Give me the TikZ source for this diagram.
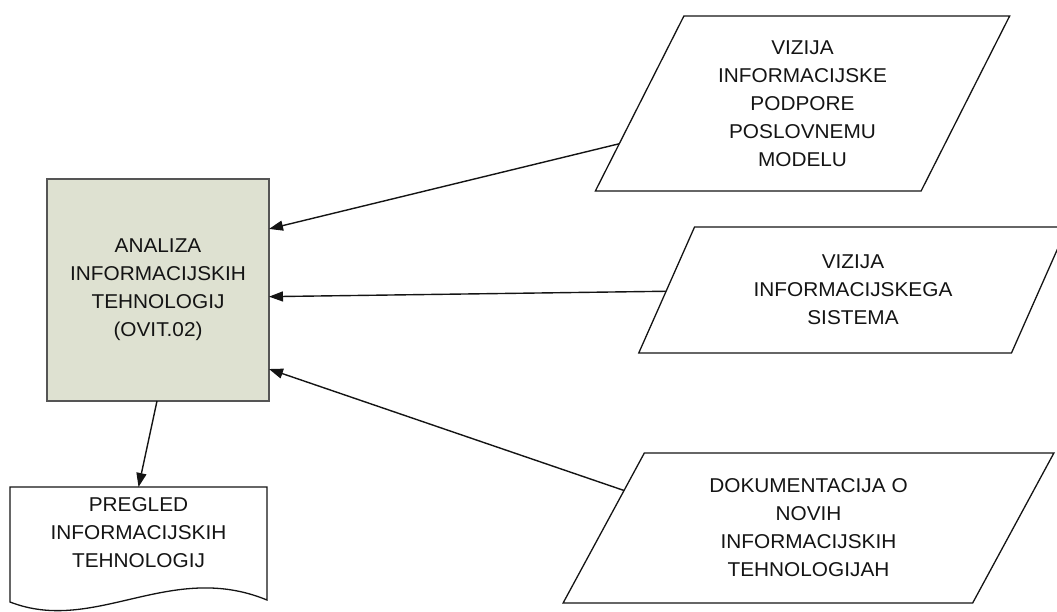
\documentclass[tikz,border=0pt]{standalone}
\usepackage{fontspec}
\setmainfont{Liberation Sans}[FakeStretch=1.04]
\usetikzlibrary{shapes.geometric,arrows.meta,calc}

\definecolor{procfill}{RGB}{222,225,209}
\definecolor{procedge}{RGB}{85,85,85}
\definecolor{inkline}{RGB}{20,20,20}

\tikzset{
  txt/.style={font=\fontsize{20pt}{28pt}\selectfont, text=inkline, align=center},
  process/.style={txt, draw=procedge, line width=2pt, fill=procfill,
    minimum width=222pt, minimum height=222pt, inner sep=0pt, outer sep=0pt},
  datain/.style={txt, draw=inkline, line width=1.3pt, trapezium,
    trapezium stretches=true, trapezium left angle=63.43,
    trapezium right angle=116.57, inner sep=0pt, outer sep=0pt},
  doctext/.style={txt, minimum width=257pt, minimum height=92pt,
    inner sep=0pt, outer sep=0pt},
  docedge/.style={draw=inkline, line width=1.3pt, line join=miter},
  flow/.style={draw=inkline, line width=1.4pt,
    -{Triangle[length=14pt,width=10pt]}},
}

\begin{document}
\begin{tikzpicture}[x=1pt,y=-1pt]
  \useasboundingbox (0,0) rectangle (1057,612);

  % central process
  \node[process] (box) at (158,290)
    {ANALIZA\\INFORMACIJSKIH\\TEHNOLOGIJ\\(OVIT.02)};

  % inputs
  \node[datain, minimum width=415pt, minimum height=175pt] (p1) at (802.5,103.5)
    {VIZIJA\\INFORMACIJSKE\\PODPORE\\POSLOVNEMU\\MODELU};
  \node[datain, minimum width=430pt, minimum height=126pt] (p2) at (853,290)
    {VIZIJA\\INFORMACIJSKEGA\\SISTEMA};
  \node[datain, minimum width=493pt, minimum height=150pt] (p3) at (808.5,528)
    {DOKUMENTACIJA O\\NOVIH\\INFORMACIJSKIH\\TEHNOLOGIJAH};

  % output document
  \node[doctext] (doc) at (138.5,533)
    {PREGLED\\INFORMACIJSKIH\\TEHNOLOGIJ};
  \draw[docedge] (doc.north west) -- (doc.north east)
    -- ($(doc.south east)+(0,21)$)
    .. controls ($(doc.south east)+(-97,-19)$) and ($(doc.south west)+(85,56)$)
    .. ($(doc.south west)+(0,23)$) -- cycle;

  % connectors
  \draw[flow] ($(p1.bottom left corner)!0.27!(p1.top left corner)$)
    -- ($(box.north east)!0.225!(box.south east)$);
  \draw[flow] ($(p2.bottom left corner)!0.49!(p2.top left corner)$)
    -- ($(box.north east)!0.53!(box.south east)$);
  \draw[flow] ($(p3.bottom left corner)!0.75!(p3.top left corner)$)
    -- ($(box.north east)!0.856!(box.south east)$);
  \draw[flow] ([xshift=-1pt]box.south) -- (doc.north);
\end{tikzpicture}
\end{document}
